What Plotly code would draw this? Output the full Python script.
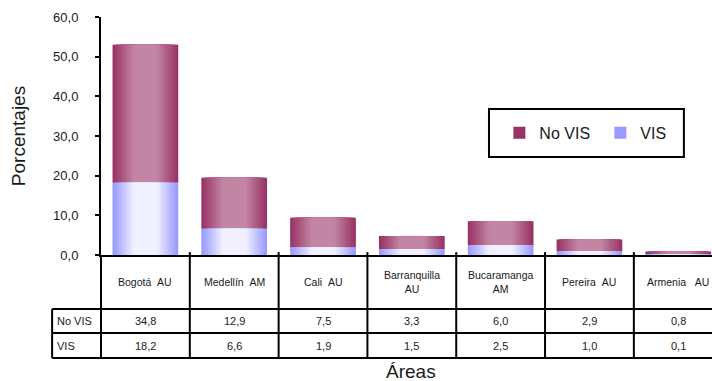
import plotly.graph_objects as go

# Areas and housing shares (percent)
areas = ["Bogotá\u00a0\u00a0AU", "Medellín\u00a0\u00a0AM", "Cali\u00a0\u00a0AU",
         "Barranquilla<br>AU", "Bucaramanga<br>AM", "Pereira\u00a0\u00a0AU",
         "Armenia\u00a0\u00a0\u00a0AU"]
no_vis = [34.8, 12.9, 7.5, 3.3, 6.0, 2.9, 0.8]
vis = [18.2, 6.6, 1.9, 1.5, 2.5, 1.0, 0.1]
series_names = ["No VIS", "VIS"]

FONT = "Liberation Sans, Arial, sans-serif"
INK = "#1a1a1a"
BAR_W = 0.74
STEPS = 16

NO_EDGE, NO_MID = (153, 51, 102), (194, 133, 163)
VIS_EDGE, VIS_MID = (153, 153, 255), (240, 240, 255)


def mix(a, b, t):
    return "rgb(%d,%d,%d)" % tuple(round(a[i] + (b[i] - a[i]) * t) for i in range(3))


def fmt(v):
    return f"{v:.1f}".replace(".", ",")


x = list(range(len(areas)))
fig = go.Figure()

# Each series is drawn as nested bars of shrinking width, lighter towards the
# centre, which gives the cylinder-like horizontal shading.
def add_series(name, values, base, edge, mid):
    for k in range(STEPS):
        t = k / (STEPS - 1)
        frac = 1 - 0.75 * t
        fig.add_trace(go.Bar(
            x=x, y=values, base=base, width=BAR_W * frac,
            marker=dict(color=mix(edge, mid, min(1.0, 1.2 * t)), line=dict(width=0)),
            name=name, legendgroup=name, showlegend=(k == 0),
            hoverinfo="skip" if k else "y+name",
        ))


add_series(series_names[0], no_vis, vis, NO_EDGE, NO_MID)
add_series(series_names[1], vis, [0] * len(vis), VIS_EDGE, VIS_MID)

shapes = []
annotations = []
line = dict(color="black", width=2)

# Data table beneath the bars
y_hdr, y_r1, y_r2 = -0.113, -0.277, -0.381
y_l1, y_l2, y_l3 = -0.227, -0.328, -0.433
x_left = -0.080
for i in range(1, len(areas)):
    shapes.append(dict(type="line", xref="x", yref="paper", x0=i - 0.5, x1=i - 0.5,
                       y0=0.012, y1=y_l3, line=line))
shapes.append(dict(type="line", xref="paper", yref="paper", x0=0, x1=0,
                   y0=0, y1=y_l3, line=line))
for yy in (y_l1, y_l2, y_l3):
    shapes.append(dict(type="line", xref="paper", yref="paper", x0=x_left, x1=1.01,
                       y0=yy, y1=yy, line=line))
shapes.append(dict(type="line", xref="paper", yref="paper", x0=x_left, x1=x_left,
                   y0=y_l1, y1=y_l3, line=line))

for i, name in enumerate(areas):
    annotations.append(dict(x=i, y=y_hdr, xref="x", yref="paper", text=name,
                            xanchor="center", yanchor="middle", showarrow=False,
                            font=dict(family=FONT, size=10.5, color=INK)))
    annotations.append(dict(x=i, y=y_r1, xref="x", yref="paper", text=fmt(no_vis[i]),
                            xanchor="center", yanchor="middle", showarrow=False,
                            font=dict(family=FONT, size=11, color=INK)))
    annotations.append(dict(x=i, y=y_r2, xref="x", yref="paper", text=fmt(vis[i]),
                            xanchor="center", yanchor="middle", showarrow=False,
                            font=dict(family=FONT, size=11, color=INK)))
for label, yy in zip(series_names, (y_r1, y_r2)):
    annotations.append(dict(x=x_left + 0.005, y=yy, xref="paper", yref="paper", text=label,
                            xanchor="left", yanchor="middle", showarrow=False,
                            font=dict(family=FONT, size=11, color=INK)))

# Axis title below the table
annotations.append(dict(x=0.507, y=-0.436, xref="paper", yref="paper", text="Áreas",
                        xanchor="center", yanchor="top", showarrow=False,
                        font=dict(family=FONT, size=19, color=INK)))

# Legend frame
shapes.append(dict(type="rect", xref="paper", yref="paper", x0=0.635, x1=0.954,
                   y0=0.412, y1=0.613, line=dict(color="black", width=2),
                   fillcolor="white", layer="below"))

fig.update_layout(
    width=712, height=381,
    margin=dict(l=101, r=0, t=17, b=126),
    paper_bgcolor="white", plot_bgcolor="white",
    barmode="overlay", separators=",.",
    font=dict(family=FONT, color=INK),
    showlegend=True,
    legend=dict(orientation="h", x=0.652, y=0.513, xanchor="left", yanchor="middle",
                bgcolor="rgba(0,0,0,0)", borderwidth=0,
                font=dict(family=FONT, size=16, color=INK),
                entrywidth=56, entrywidthmode="pixels", traceorder="normal"),
    xaxis=dict(range=[-0.5, 6.38], showticklabels=False, ticks="", showgrid=False,
               zeroline=False, showline=True, linecolor="black", linewidth=2,
               fixedrange=True),
    yaxis=dict(range=[0, 60], dtick=10, tickformat=".1f", ticks="outside", ticklen=4,
               tickwidth=2, tickcolor="black", showgrid=False, zeroline=False,
               showline=True, linecolor="black", linewidth=2,
               tickfont=dict(family=FONT, size=13, color=INK), ticklabelstandoff=14,
               title=dict(text="Porcentajes", standoff=22,
                          font=dict(family=FONT, size=19, color=INK)),
               automargin=False, fixedrange=True),
    shapes=shapes, annotations=annotations,
)

fig.write_html("out.html")
